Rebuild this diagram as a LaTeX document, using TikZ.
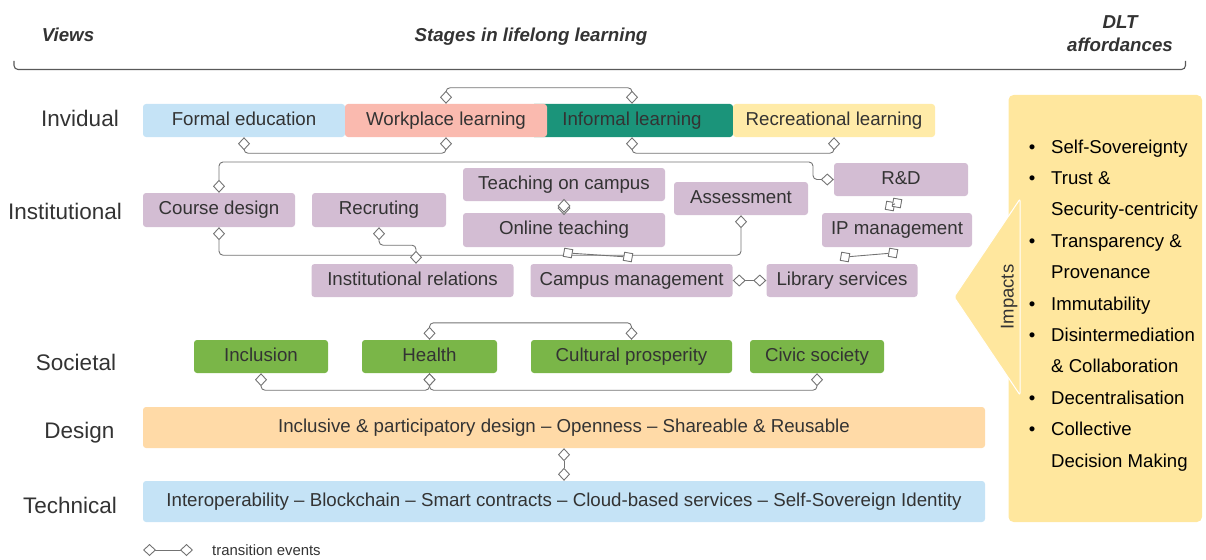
\documentclass[tikz,border=0pt]{standalone}
\usepackage{fontspec}
\setmainfont{Liberation Sans}
\usetikzlibrary{arrows.meta,shapes.geometric}

\definecolor{ink}{RGB}{51,51,51}
\definecolor{lnk}{RGB}{115,115,115}
\definecolor{skyfill}{RGB}{197,227,246}
\definecolor{salmonfill}{RGB}{250,186,175}
\definecolor{tealfill}{RGB}{27,148,122}
\definecolor{cream}{RGB}{255,235,168}
\definecolor{mauve}{RGB}{211,189,211}
\definecolor{leaf}{RGB}{122,182,72}
\definecolor{peach}{RGB}{255,218,167}
\definecolor{panel}{RGB}{255,231,158}

\tikzset{
  dtip/.tip={Diamond[length=13pt,width=12pt,fill=white]},
  lbl/.style={inner sep=0pt, text depth=0pt, text=ink},
  hdr/.style={lbl, text height=13.4pt, font=\fontsize{18.7}{22}\selectfont\bfseries\itshape},
  rowlbl/.style={lbl, text height=16.1pt, font=\fontsize{22.5}{27}\selectfont},
  box/.style={rectangle, rounded corners=3pt, inner sep=0pt, text height=13.4pt,
    text depth=4.1pt, text=ink, font=\fontsize{18.7}{22}\selectfont},
  inst/.style={box, fill=mauve, minimum height=34},
  soc/.style={box, fill=leaf, minimum height=33},
  conn/.style={draw=lnk, line width=0.9pt, rounded corners=4pt},
  ends/.style={dtip-dtip},
  dia/.style={diamond, draw=lnk, fill=white, line width=0.9pt, inner sep=0pt,
    minimum width=12pt, minimum height=13pt},
  sq/.style={diamond, draw=lnk, fill=white, line width=0.9pt, inner sep=0pt,
    minimum size=12pt},
  item/.style={lbl, text height=13.3pt, text=black, font=\fontsize{18.6}{22}\selectfont},
}

\begin{document}
\begin{tikzpicture}[x=1pt,y=-1pt]
\useasboundingbox (0,0) rectangle (1206,559);

% ---- column headings and bracket
\node[hdr] (hviews) at (68,34.5) {Views};
\node[hdr] (hstages) at (531,35) {Stages in lifelong learning};
\node[hdr] (hdlt) at (1120,21.5) {DLT};
\node[hdr] (haff) at (1120,44.5) {affordances};
\draw[draw=black!65, line width=1.1pt, rounded corners=4pt]
  (14,61) -- (14,69.5) -- (1185.5,69.5) -- (1185.5,61);

% ---- row labels
\node[rowlbl] (vind) at (80,118) {Invidual};
\node[rowlbl] (vins) at (65,211) {Institutional};
\node[rowlbl] (vsoc) at (76,362) {Societal};
\node[rowlbl] (vdes) at (79.5,430) {Design};
\node[rowlbl] (vtec) at (70,505) {Technical};

% ---- individual stages
\node[box, fill=skyfill, minimum width=202, minimum height=33] (fe) at (244,120.5) {Formal education};
\node[box, fill=tealfill, minimum width=202, minimum height=33] (il) at (632,120.5) {Informal learning};
\node[box, fill=salmonfill, minimum width=202, minimum height=33] (wl) at (446,120.5) {Workplace learning};
\node[box, fill=cream, minimum width=202, minimum height=33] (rl) at (834,120.5) {Recreational learning};

% ---- institutional stages
\node[inst, minimum width=152] (cd) at (219,210) {Course design};
\node[inst, minimum width=134] (rc) at (379,210) {Recruting};
\node[inst, minimum width=202, minimum height=33] (tc) at (564,184.5) {Teaching on campus};
\node[inst, minimum width=202] (ot) at (564,230) {Online teaching};
\node[inst, minimum width=134, minimum height=33] (as) at (741,198.5) {Assessment};
\node[inst, minimum width=134, minimum height=33] (rd) at (901,179.5) {R\&D};
\node[inst, minimum width=150] (ip) at (897,230) {IP management};
\node[inst, minimum width=202, minimum height=33] (ir) at (412.5,280.5) {Institutional relations};
\node[inst, minimum width=202, minimum height=33] (cm) at (631.5,280.5) {Campus management};
\node[inst, minimum width=151, minimum height=33] (ls) at (842,280.5) {Library services};

% ---- societal stages
\node[soc, minimum width=134] (inc) at (261,356.5) {Inclusion};
\node[soc, minimum width=135] (hl) at (429.5,356.5) {Health};
\node[soc, minimum width=201] (cp) at (631.5,356.5) {Cultural prosperity};
\node[soc, minimum width=134] (cs) at (817,356.5) {Civic society};

% ---- design and technical layers
\node[box, fill=peach, minimum width=842, minimum height=41] (des) at (564,427.5)
  {Inclusive \& participatory design – Openness – Shareable \& Reusable};
\node[box, fill=skyfill, minimum width=842, minimum height=41] (tec) at (564,501.5)
  {Interoperability – Blockchain – Smart contracts – Cloud-based services – Self-Sovereign Identity};

% ---- transition events
\draw[conn, ends] (wl.north) -- ++(0,-16) -| (il.north);
\draw[conn, ends] (fe.south) -- ++(0,16) -| (wl.south);
\draw[conn, ends] (il.south) -- ++(0,16) -| (rl.south);
\draw[conn, ends] (cd.north) |- (813,162) |- (rd.west);
\draw[conn, ends] (cd.south) -- ++(0,28) -| (as.south);
\draw[conn, ends] (rc.south) -- ++(0,18) -| ([xshift=3.5pt]ir.north);
\draw[conn, ends] (cm.east) -- (ls.west);
\draw[conn, ends] (hl.north) -- ++(0,-17) -| (cp.north);
\draw[conn, ends] (inc.south) -- ++(0,17) -| (hl.south);
\draw[conn, ends] (hl.south) -- ++(0,17) -| (cs.south);
\draw[conn, ends] (des.south) -- (tec.north);

% short links drawn with diamond nodes
\node[dia, anchor=north] (tcd) at (tc.south) {};
\node[dia, anchor=south] (otd) at (ot.north) {};
\node[sq, rotate=35] (ipd) at (890,206) {};
\node[sq, rotate=35] (rdd) at (897,203) {};
\draw[conn] (rdd) -- (ipd);
\node[sq, rotate=35] (otb) at (568,253) {};
\node[sq, rotate=35] (cmt) at (628,257) {};
\draw[conn] (otb) -- (cmt);
\node[sq, rotate=35] (ipb) at (893,253) {};
\node[sq, rotate=35] (lst) at (845,257) {};
\draw[conn] (ipb) -- (lst);

% ---- legend
\coordinate (lga) at (143,550);
\coordinate (lgb) at (193,550);
\draw[conn, ends] (lga) -- (lgb);
\node[lbl, anchor=west, text height=10.6pt, font=\fontsize{14.9}{17}\selectfont] (lgt) at (212,550) {transition events};

% ---- DLT affordances panel
\node[fill=panel, rounded corners=5pt, inner sep=0pt, minimum width=193.5, minimum height=427]
  (aff) at (1105.25,308.5) {};
\draw[white, fill=panel, line width=1pt, rounded corners=2pt]
  (1020,199) -- (954,297) -- (1020,395) -- cycle;
\node[lbl, rotate=90, text height=13.3pt, font=\fontsize{18.5}{22}\selectfont] (imp) at (1007,297) {Impacts};

\foreach \t [count=\i from 0] in {Self-Sovereignty, Trust \&, Security-centricity,
    Transparency \&, Provenance, Immutability, Disintermediation, \& Collaboration,
    Decentralisation, Collective, Decision Making}
  \node[item, anchor=west] (afft\i) at (1051,146.5+31.4*\i) {\t};
\foreach \i in {0,1,3,5,6,8,9}
  \node[item] (affb\i) at (1032,146.5+31.4*\i) {\textbullet};

\end{tikzpicture}
\end{document}
